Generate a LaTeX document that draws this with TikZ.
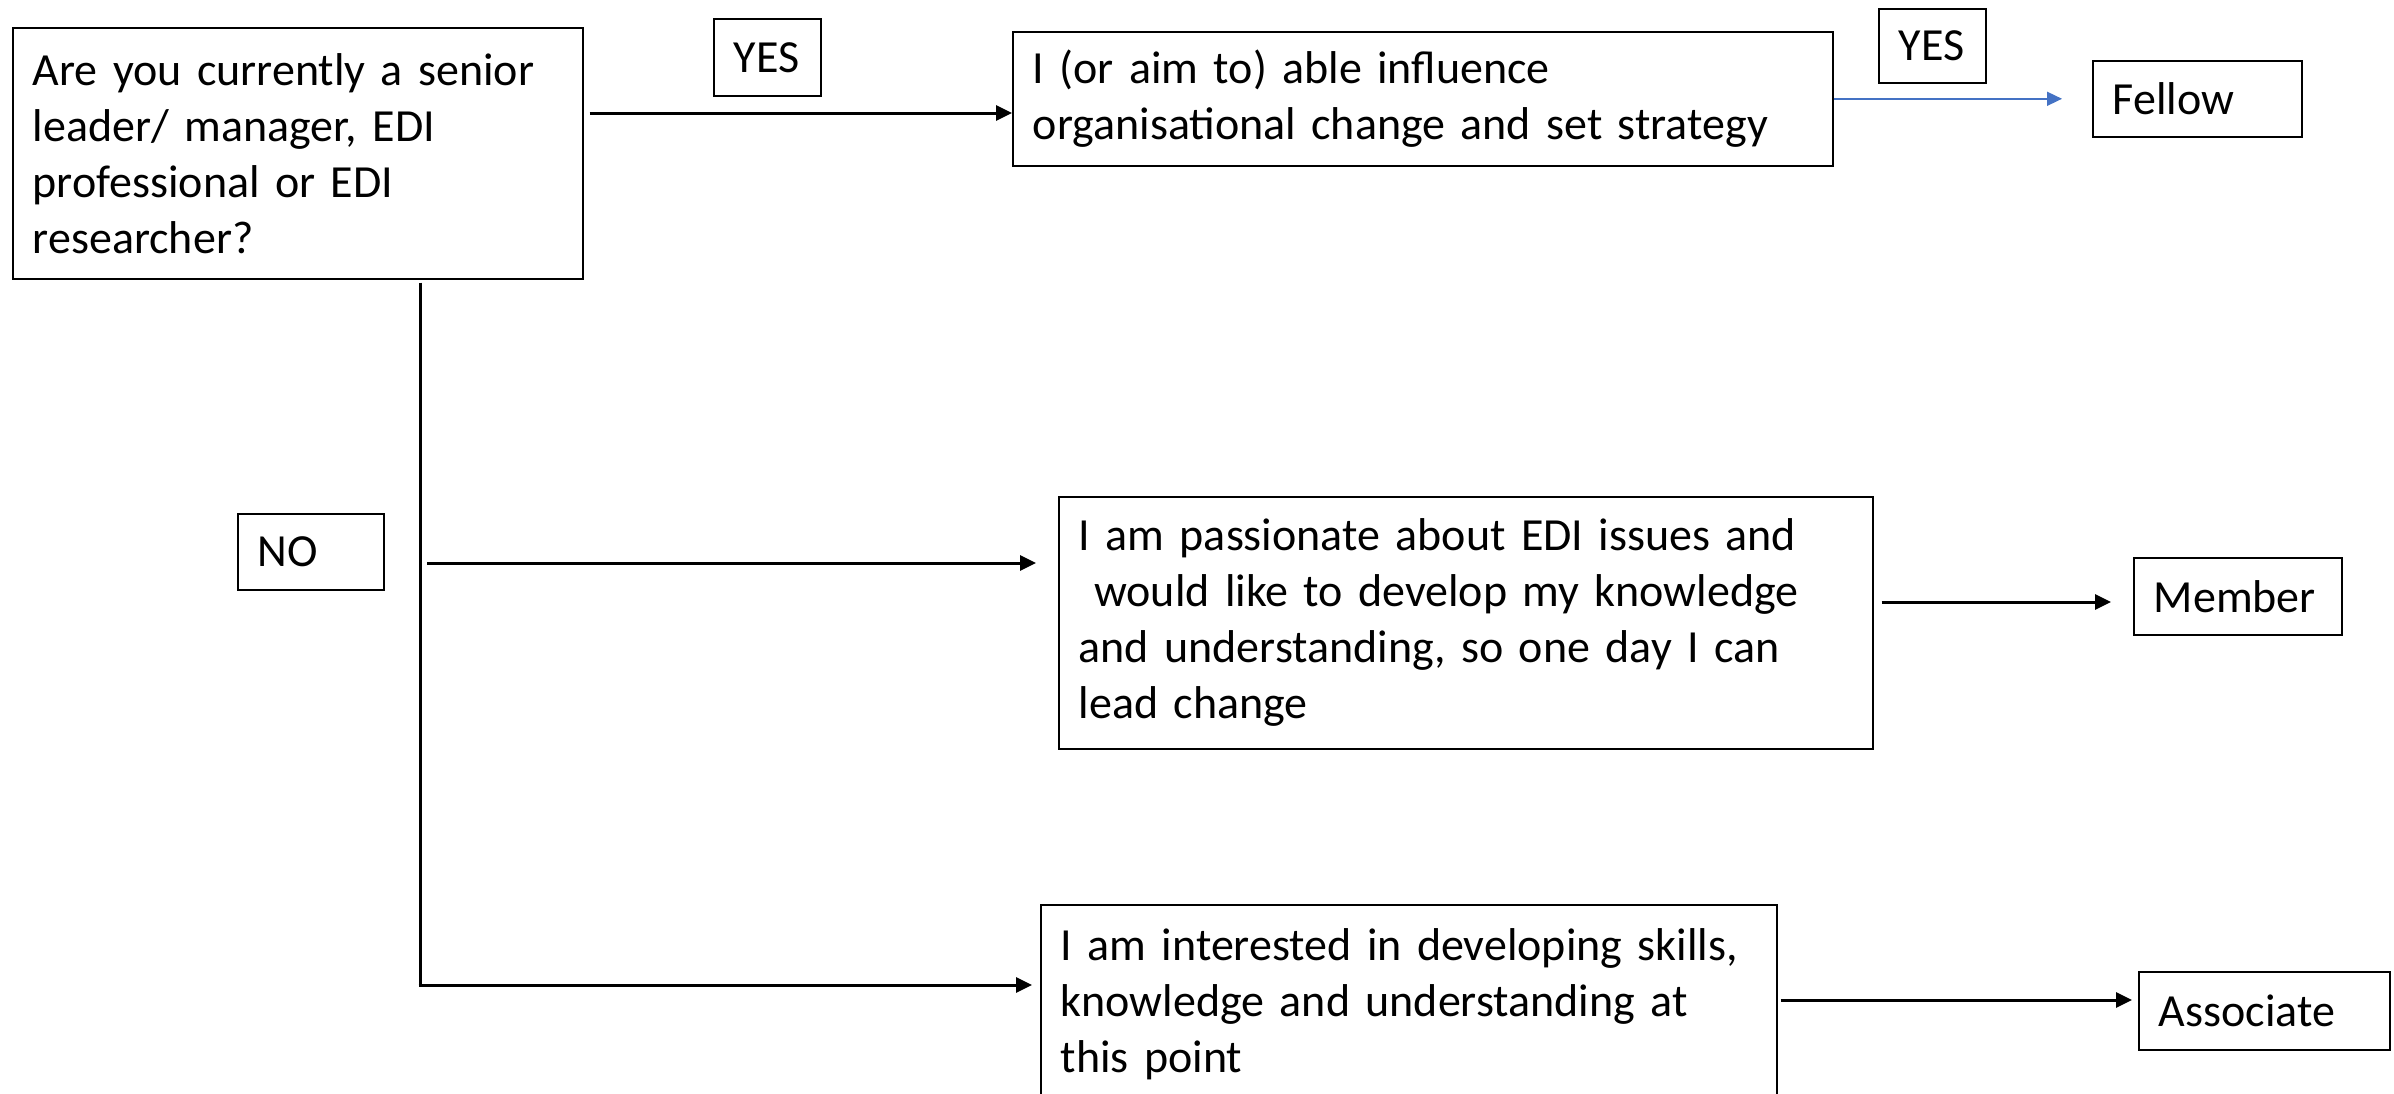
\documentclass[tikz,border=0pt]{standalone}
\usepackage{fontspec}
\setmainfont{Carlito}
\usetikzlibrary{arrows.meta}
\definecolor{arrblue}{HTML}{4472C4}
\begin{document}
\begin{tikzpicture}[x=1pt,y=-1pt,
  box/.style={draw, line width=1.6pt, anchor=north west, inner xsep=20pt, inner ysep=0pt, align=left,
    font=\fontsize{46}{56}\selectfont},
  conn/.style={line width=3pt, -{Triangle[length=16pt,width=15pt]}},
  bconn/.style={draw=arrblue, line width=1.6pt, -{Triangle[length=15pt,width=14pt]}}]
\clip (0,0) rectangle (2394,1093);
\fill[white] (0,0) rectangle (2394,1093);
% main boxes
\node[box, text width=530pt, minimum height=251pt] (Q) at (12,27)
  {Are you currently a senior\\leader/ manager, EDI\\professional or EDI\\researcher?};
\node[box, text width=780pt, minimum height=134pt] (A) at (1012,31)
  {I (or aim to) able influence\\organisational change and set strategy};
\node[box, text width=774pt, minimum height=252pt] (B) at (1058,496)
  {I am passionate about EDI issues and\\\ would like to develop my knowledge\\and understanding, so one day I can\\lead change};
\node[box, text width=696pt, inner ysep=24pt] (C) at (1040,904)
  {I am interested in developing skills,\\knowledge and understanding at\\this point\\\mbox{}\\\mbox{}};
% label boxes
\node[box, text width=67pt, minimum height=77pt] (yes1) at (713,18) {YES};
\node[box, text width=67pt, minimum height=74pt] (yes2) at (1878,8) {YES};
\node[box, text width=106pt, minimum height=76pt] (no) at (237,513) {NO};
\node[box, text width=169pt, minimum height=76pt] (fellow) at (2092,60) {Fellow};
\node[box, text width=168pt, minimum height=77pt] (member) at (2133,557) {Member};
\node[box, text width=211pt, minimum height=78pt] (assoc) at (2138,971) {Associate};
% helper coordinates
\coordinate (vx) at (420,0);
\coordinate (yA) at (0,113);
\coordinate (yB) at (0,563);
\coordinate (yM) at (0,602);
\coordinate (yC) at (0,985);
\coordinate (yS) at (0,1000);
% connectors
\draw[conn] ([xshift=6pt]Q.east |- yA) -- (A.west |- yA);
\draw[bconn] (A.east) -- ([xshift=-30pt]fellow.west);
\draw[line width=3pt] ([yshift=-3pt]Q.south -| vx) -- (vx |- yC);
\draw[conn] ([xshift=-1.5pt]vx |- yC) -- ([xshift=-8pt]C.west |- yC);
\draw[conn] ([xshift=7pt]vx |- yB) -- ([xshift=-22pt]B.west |- yB);
\draw[conn] ([xshift=8pt]B.east |- yM) -- ([xshift=-22pt]member.west |- yM);
\draw[conn] ([xshift=3pt]C.east |- yS) -- ([xshift=-6pt]assoc.west |- yS);
\end{tikzpicture}
\end{document}
